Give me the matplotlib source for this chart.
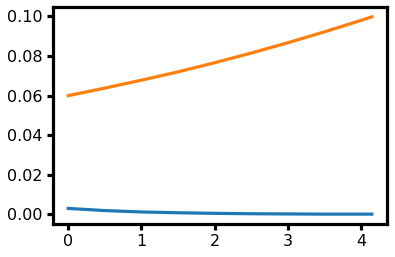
import numpy as np
import matplotlib.pyplot as plt

# values
x = [0, 0.5, 1.0, 1.5, 2.0, 2.5, 3.0, 3.5, 4.0, 4.15]
blue = [0.0030, 0.0019, 0.0012, 0.0008, 0.0005, 0.0003, 0.0002, 0.0001, 0.0001, 0.0001]
orange = [0.0600, 0.0638, 0.0678, 0.0720, 0.0766, 0.0815, 0.0867, 0.0922, 0.0980, 0.0998]

plt.rcParams["font.family"] = "DejaVu Sans"

fig = plt.figure(figsize=(3.95, 2.57), dpi=100)
ax = fig.add_axes([53 / 395, 1 - 224 / 257, (387 - 53) / 395, (224 - 7) / 257])

ax.plot(x, blue, color="#1f77b4", lw=2.3)
ax.plot(x, orange, color="#ff7f0e", lw=2.3)

ax.set_xticks([0, 1, 2, 3, 4])
ax.set_yticks([0.00, 0.02, 0.04, 0.06, 0.08, 0.10])
for s in ax.spines.values():
    s.set_linewidth(2.3)
ax.tick_params(width=2.3, length=4, labelsize=11.5)

fig.savefig("out.png", dpi=100)
